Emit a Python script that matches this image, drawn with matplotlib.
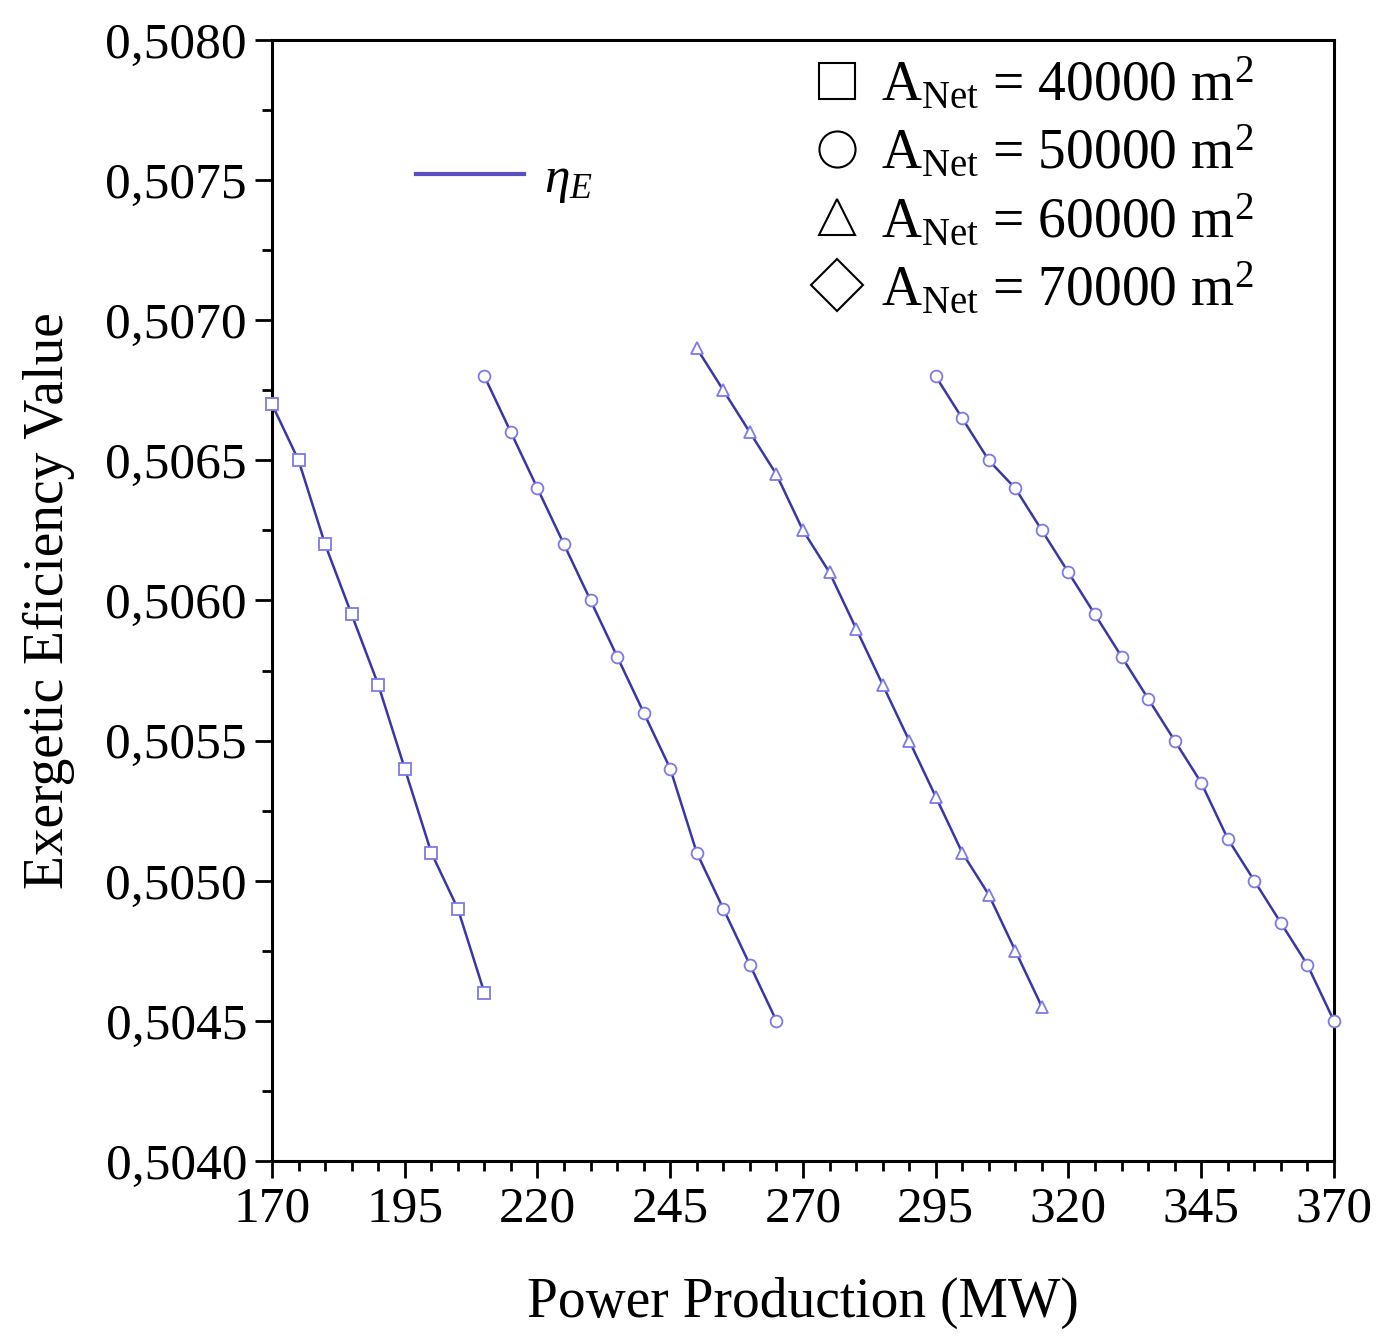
import matplotlib
matplotlib.use("Agg")
import matplotlib.pyplot as plt
from matplotlib.lines import Line2D
from matplotlib.ticker import MultipleLocator, FuncFormatter

plt.rcParams["font.family"] = ["Liberation Serif", "DejaVu Serif"]
plt.rcParams["mathtext.fontset"] = "custom"
plt.rcParams["mathtext.rm"] = "Liberation Serif"
plt.rcParams["mathtext.it"] = "Liberation Serif:italic"

# data
power_40k = [170, 175, 180, 185, 190, 195, 200, 205, 210]
eff_40k = [0.5067, 0.5065, 0.5062, 0.50595, 0.5057, 0.5054, 0.5051, 0.5049, 0.5046]

power_50k = [210, 215, 220, 225, 230, 235, 240, 245, 250, 255, 260, 265]
eff_50k = [0.5068, 0.5066, 0.5064, 0.5062, 0.5060, 0.5058, 0.5056, 0.5054,
           0.5051, 0.5049, 0.5047, 0.5045]

power_60k = [250, 255, 260, 265, 270, 275, 280, 285, 290, 295, 300, 305, 310, 315]
eff_60k = [0.5069, 0.50675, 0.5066, 0.50645, 0.50625, 0.5061, 0.5059, 0.5057,
           0.5055, 0.5053, 0.5051, 0.50495, 0.50475, 0.50455]

power_70k = [295, 300, 305, 310, 315, 320, 325, 330, 335, 340, 345, 350, 355,
             360, 365, 370]
eff_70k = [0.5068, 0.50665, 0.5065, 0.5064, 0.50625, 0.5061, 0.50595, 0.5058,
           0.50565, 0.5055, 0.50535, 0.50515, 0.5050, 0.50485, 0.5047, 0.5045]

x_ticks = [170, 195, 220, 245, 270, 295, 320, 345, 370]
areas = ["40000", "50000", "60000", "70000"]
markers = ["s", "o", "^", "o"]

line_col = "#3a36a8"
mark_col = "#7d7ae8"

fig = plt.figure(figsize=(13.78, 13.42), dpi=100)
ax = fig.add_axes([0.1974, 0.1349, 0.7706, 0.8353])

series = [(power_40k, eff_40k), (power_50k, eff_50k),
          (power_60k, eff_60k), (power_70k, eff_70k)]
for (p, e), m in zip(series, markers):
    ax.plot(p, e, color=line_col, lw=1.8, marker=m, markersize=8.5,
            markerfacecolor="white", markeredgecolor=mark_col,
            markeredgewidth=1.3, clip_on=False, zorder=3)

ax.set_xlim(170, 370)
ax.set_ylim(0.5040, 0.5080)
ax.set_xticks(x_ticks)
ax.xaxis.set_minor_locator(MultipleLocator(5))
ax.yaxis.set_major_locator(MultipleLocator(0.0005))
ax.yaxis.set_minor_locator(MultipleLocator(0.00025))
ax.yaxis.set_major_formatter(FuncFormatter(lambda v, _: f"{v:.4f}".replace(".", ",")))

ax.tick_params(which="major", direction="out", length=12, width=2,
               labelsize=37, pad=6)
ax.tick_params(which="minor", direction="out", length=7, width=2)
for s in ax.spines.values():
    s.set_linewidth(2.2)

ax.set_xlabel("Power Production (MW)", fontsize=40, labelpad=32)
ax.set_ylabel("Exergetic Eficiency Value", fontsize=40, labelpad=22)

# legends
h_line = [Line2D([0], [0], color="#5a50c0", lw=3)]
leg1 = ax.legend(h_line, [r"$\eta_E$"], loc="center left",
                 bbox_to_anchor=(0.092, 0.875), frameon=False, fontsize=37,
                 handlelength=2.1, handletextpad=0.4)
ax.add_artist(leg1)

h_marks = [Line2D([0], [0], ls="none", marker=m, markersize=26,
                  markerfacecolor="white", markeredgecolor="black",
                  markeredgewidth=1.5) for m in ["s", "o", "^", "D"]]
labels = [r"$\mathrm{A_{Net}}$ = " + a + r" m$^2$" for a in areas]
ax.legend(h_marks, labels, loc="upper left", bbox_to_anchor=(0.485, 1.005),
          frameon=False, fontsize=40, handlelength=1.0, handletextpad=0.3,
          labelspacing=0.22, borderaxespad=0)

fig.savefig("out.png", dpi=100)
